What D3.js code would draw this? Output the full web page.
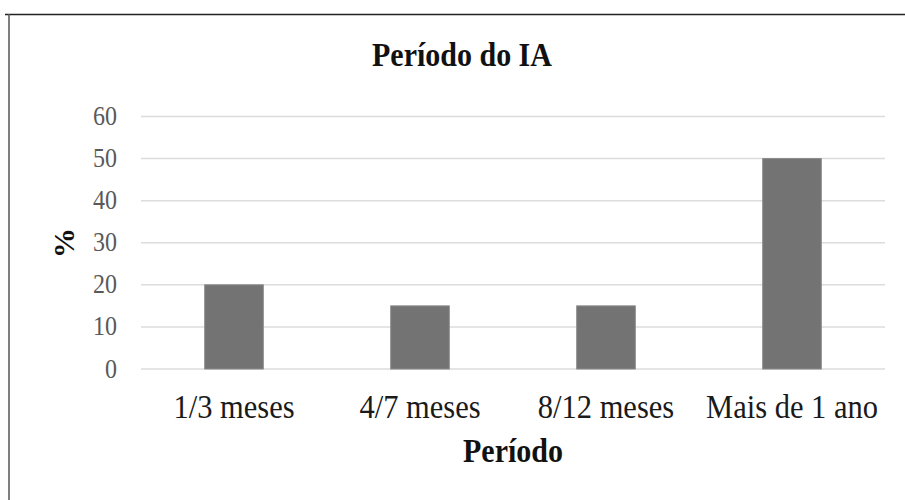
<!DOCTYPE html>
<html><head><meta charset="utf-8">
<script src="https://cdn.jsdelivr.net/npm/d3@7"></script>
<style>body{margin:0;background:#fff}svg{display:block}</style>
</head><body>
<svg id="c" width="905" height="500"></svg>
<script>
const categories = ["1/3 meses", "4/7 meses", "8/12 meses", "Mais de 1 ano"];
const values = [20, 15, 15, 50];
const yTicks = [0, 10, 20, 30, 40, 50, 60];
const title = "Período do IA";
const xTitle = "Período";
const yTitle = "%";

const svg = d3.select("#c");
const font = "Liberation Serif, Times New Roman, serif";
const sy = 1.1; // slight vertical stretch of the original picture's text

// frame
svg.append("line").attr("x1", 5).attr("x2", 905).attr("y1", 14.5).attr("y2", 14.5)
  .attr("stroke", "#222").attr("stroke-width", 1.5);
svg.append("line").attr("x1", 9).attr("x2", 9).attr("y1", 14).attr("y2", 500)
  .attr("stroke", "#555").attr("stroke-width", 1.5);

const x = d3.scaleBand().domain(categories).range([141, 885]).paddingInner(0.685).paddingOuter(0.3425);
const y = d3.scaleLinear().domain([0, 60]).range([369, 116.5]);

// gridlines
svg.append("g").selectAll("line").data(yTicks).join("line")
  .attr("x1", 141).attr("x2", 885)
  .attr("y1", d => y(d)).attr("y2", d => y(d))
  .attr("stroke", "#dcdcdc").attr("stroke-width", 1.5);

// y tick labels
svg.append("g").selectAll("text").data(yTicks).join("text")
  .attr("transform", d => `translate(117,${y(d) + 8.5}) scale(1,${sy})`)
  .attr("text-anchor", "end").attr("font-family", font).attr("font-size", 24)
  .attr("fill", "#595959").text(d => d);

// bars
svg.append("g").selectAll("rect").data(values).join("rect")
  .attr("x", (d, i) => x(categories[i])).attr("width", x.bandwidth())
  .attr("y", d => y(d)).attr("height", d => y(0) - y(d))
  .attr("fill", "#737373").attr("stroke", "#8a8a8a").attr("stroke-width", 1);

// category labels
svg.append("g").selectAll("text").data(categories).join("text")
  .attr("transform", d => `translate(${x(d) + x.bandwidth() / 2},418) scale(1,${sy})`)
  .attr("text-anchor", "middle").attr("font-family", font).attr("font-size", 30.5)
  .attr("fill", "#1a1a1a").text(d => d);

// title
svg.append("text").attr("transform", `translate(462,66) scale(1,${sy})`).attr("text-anchor", "middle")
  .attr("font-family", font).attr("font-size", 30).attr("font-weight", "bold")
  .attr("fill", "#111").text(title);

// x title
svg.append("text").attr("transform", `translate(513,462) scale(1,${sy})`).attr("text-anchor", "middle")
  .attr("font-family", font).attr("font-size", 30).attr("font-weight", "bold")
  .attr("fill", "#111").text(xTitle);

// y title
svg.append("text").attr("transform", "translate(74,243) rotate(-90)")
  .attr("text-anchor", "middle")
  .attr("font-family", font).attr("font-size", 30).attr("font-weight", "bold")
  .attr("fill", "#111").text(yTitle);
</script>
</body></html>
